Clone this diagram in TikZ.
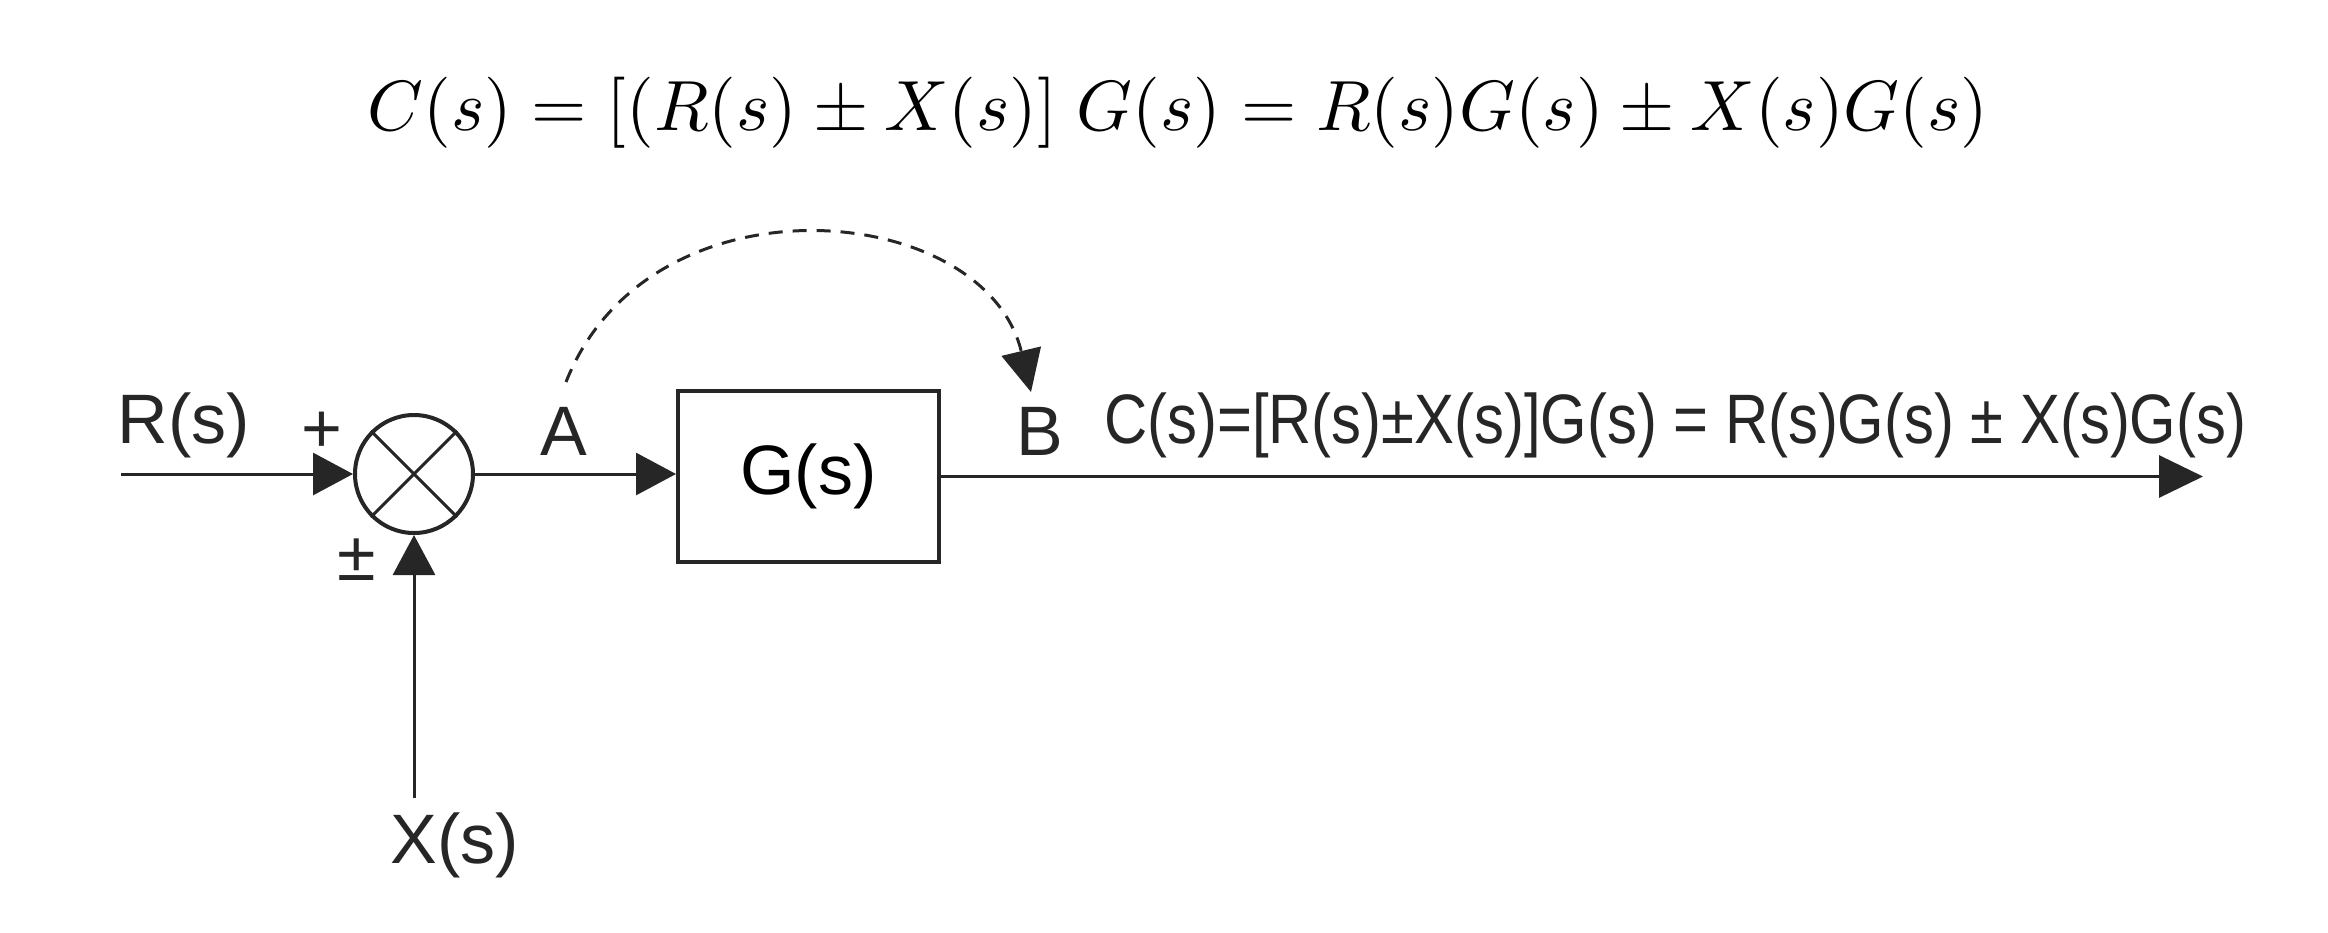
\documentclass[tikz,border=0pt]{standalone}
\usepackage{fontspec}
\usepackage{graphicx}
\newfontfamily\labfont{Liberation Sans}
\usetikzlibrary{arrows.meta}
\begin{document}
\begin{tikzpicture}[x=1pt,y=-1pt,
  lbl/.style={font=\labfont\fontsize{70}{80}\selectfont, inner sep=0pt, text=black!85},
  conn/.style={line width=3pt, draw=black!85, -{Triangle[length=40pt,width=42pt]}},
  sumnode/.style={circle, draw=black!85, line width=4pt, minimum size=118pt, inner sep=0pt},
  blockbox/.style={rectangle, draw=black!85, line width=4pt, minimum width=261pt, minimum height=171pt, inner sep=0pt, font=\labfont\fontsize{70}{80}\selectfont},
  dashconn/.style={line width=3pt, draw=black!85, dash pattern=on 14pt off 10pt, -{Triangle[length=42pt,width=40pt]}}
]
\useasboundingbox (0,0) rectangle (2328,932);
% top equation
\node[anchor=base, inner sep=0pt] (eq) at (1178,130)
  {\resizebox{1620pt}{!}{$C(s) = [(R(s) \pm X(s)]\;G(s) = R(s)G(s) \pm X(s)G(s)$}};
% nodes
\node[sumnode] (sum) at (414,474) {};
\draw[line width=3pt, draw=black!85] (sum.north east) -- (sum.south west);
\draw[line width=3pt, draw=black!85] (sum.north west) -- (sum.south east);
\node[blockbox] (G) at (808.5,476.5) {G(s)};
% labels
\node[lbl, anchor=base] (Rl) at (184,443) {R(s)};
\node[lbl] (plus) at (322,432) {+};
\node[lbl] (pm) at (357,560) {±};
\node[lbl, anchor=base] (Xl) at (455,863) {X(s)};
\node[lbl, anchor=base] (Al) at (564,455) {A};
\node[lbl, anchor=base] (Bl) at (1040,455) {B};
\node[lbl, anchor=base west] (Cl) at (1104,443)
  {\resizebox{1142pt}{\height}{C(s)=[R(s)±X(s)]G(s) = R(s)G(s) ± X(s)G(s)}};
% coordinates
\coordinate (in) at (121,474);
\coordinate (xin) at (414,798);
\coordinate (out) at (2203,478);
\coordinate (dashS) at (566,382);
\coordinate (dashE) at (1031,392);
% connectors
\draw[conn] (in) -- (sum.west);
\draw[conn] (xin) -- (sum.south);
\draw[conn] (sum.east) -- (sum.east -| G.west);
\draw[line width=3pt, draw=black!85, -{Triangle[length=44pt,width=42pt]}] (G.east) -- (G.east -| out);
\draw[dashconn] (dashS) .. controls (650,170) and (985,200) .. (dashE);
\end{tikzpicture}
\end{document}
